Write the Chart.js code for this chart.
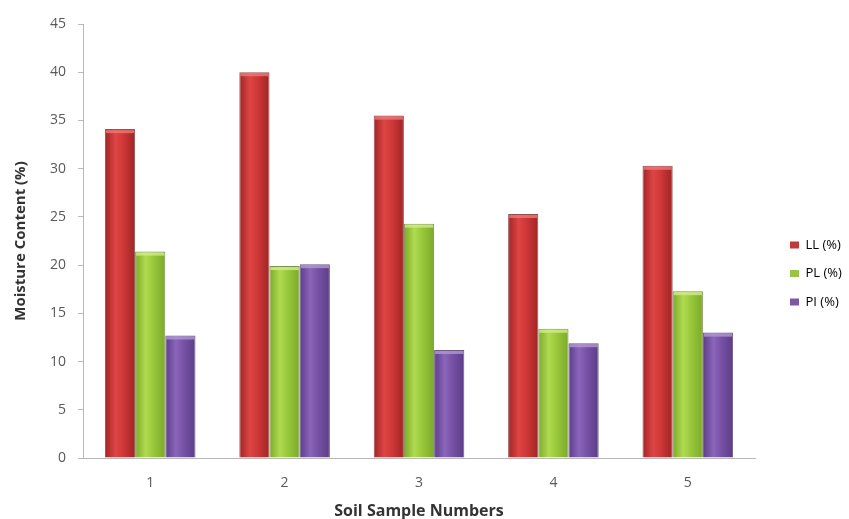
<!DOCTYPE html>
<html>
<head>
<meta charset="utf-8">
<script src="https://cdn.jsdelivr.net/npm/chart.js@4/dist/chart.umd.min.js"></script>
<style>
  html, body { margin: 0; padding: 0; background: #fff; }
  #wrap { width: 849px; height: 519px; }
</style>
</head>
<body>
<div id="wrap"><canvas id="c" width="849" height="519"></canvas></div>
<script>
// Atterberg limits of the soil samples
const samples = ['1', '2', '3', '4', '5'];
const liquidLimit = [34.1, 40.0, 35.5, 25.3, 30.3];
const plasticLimit = [21.4, 19.9, 24.3, 13.4, 17.3];
const plasticityIndex = [12.7, 20.1, 11.2, 11.9, 13.0];
const seriesNames = ['LL (%)', 'PL (%)', 'PI (%)'];

// Shading stops for the cylinder-like bars: edge, middle, edge
const palettes = [
  { edge: '#a02424', mid: '#de4545', base: '#cf3838', cap: '#ef7878', line: 'rgba(110,25,25,0.75)' },
  { edge: '#7ca92a', mid: '#b0da50', base: '#98c83b', cap: '#d0ee88', line: 'rgba(80,110,25,0.75)' },
  { edge: '#5c3d88', mid: '#8b65ba', base: '#7752a5', cap: '#b299d5', line: 'rgba(60,35,90,0.75)' }
];

const CAT_PCT = 0.674;
// legend box width and the x where its markers start
const LEGEND_WIDTH = 94;
const LEGEND_ITEM_X = 790;
const LEGEND_DY = 2;

function barShade(context) {
  const chart = context.chart;
  const pal = palettes[context.datasetIndex];
  const xs = chart.scales.x;
  if (!xs || context.dataIndex === undefined) return pal.base;
  const catW = xs.width / samples.length;
  const barW = catW * CAT_PCT / 3;
  const center = xs.getPixelForValue(context.dataIndex) + (context.datasetIndex - 1) * barW;
  const left = center - barW / 2;
  const g = chart.ctx.createLinearGradient(left, 0, left + barW, 0);
  g.addColorStop(0, pal.edge);
  g.addColorStop(0.35, pal.mid);
  g.addColorStop(0.6, pal.base);
  g.addColorStop(1, pal.edge);
  return g;
}

// Lighter rim along the top of every bar
const capPlugin = {
  id: 'barCaps',
  afterDatasetsDraw(chart) {
    const ctx = chart.ctx;
    chart.data.datasets.forEach((ds, di) => {
      const meta = chart.getDatasetMeta(di);
      const pal = palettes[di];
      meta.data.forEach(bar => {
        const w = bar.width;
        const left = bar.x - w / 2;
        ctx.save();
        ctx.fillStyle = pal.cap;
        ctx.globalAlpha = 0.8;
        ctx.fillRect(left + 1, bar.y + 1, w - 2, 3);
        ctx.restore();
      });
    });
  }
};

// Fixed-width legend column with the items placed at a set x
const legendGapPlugin = {
  id: 'legendGap',
  afterInit(chart) {
    const legend = chart.legend;
    if (!legend) return;
    const fit = legend.fit;
    legend.fit = function () {
      fit.apply(this, arguments);
      this.width = LEGEND_WIDTH;
    };
    const draw = legend.draw;
    legend.draw = function () {
      const ctx = this.ctx;
      const dx = LEGEND_ITEM_X - (this.left + this.options.labels.padding);
      ctx.save();
      ctx.translate(dx, LEGEND_DY);
      draw.apply(this, arguments);
      ctx.restore();
    };
  }
};

const datasets = [liquidLimit, plasticLimit, plasticityIndex].map((vals, i) => ({
  label: seriesNames[i],
  data: vals,
  backgroundColor: barShade,
  borderColor: palettes[i].line,
  borderWidth: 1,
  barPercentage: 1,
  categoryPercentage: CAT_PCT
}));

const legendColors = ['#c0393b', '#9bc34a', '#7b57a6'];

new Chart(document.getElementById('c'), {
  type: 'bar',
  data: { labels: samples, datasets },
  plugins: [capPlugin, legendGapPlugin],
  options: {
    responsive: false,
    animation: false,
    layout: { padding: { top: 24, right: 0, left: 12, bottom: 0 } },
    plugins: {
      tooltip: { enabled: false },
      legend: {
        position: 'right',
        labels: {
          boxWidth: 9,
          boxHeight: 7,
          padding: 15.5,
          color: '#666',
          font: { family: 'Open Sans', size: 13 },
          generateLabels(chart) {
            return chart.data.datasets.map((ds, i) => ({
              text: ds.label,
              fillStyle: legendColors[i],
              strokeStyle: legendColors[i],
              lineWidth: 0,
              datasetIndex: i,
              hidden: false
            }));
          }
        }
      }
    },
    scales: {
      x: {
        offset: true,
        grid: { display: false },
        border: { display: true, color: '#b8b8b8', width: 1 },
        ticks: { color: '#595959', padding: 9, font: { family: 'Open Sans', size: 14 } },
        title: {
          display: true,
          text: 'Soil Sample Numbers',
          color: '#333',
          padding: { top: 1, bottom: -2 },
          font: { family: 'Open Sans', size: 16, weight: 'bold' }
        }
      },
      y: {
        min: 0,
        max: 45,
        ticks: { stepSize: 5, color: '#595959', padding: 12, font: { family: 'Open Sans', size: 14 } },
        grid: { drawOnChartArea: false, drawTicks: true, tickLength: 5, color: '#b8b8b8' },
        border: { display: true, color: '#b8b8b8', width: 1 },
        title: {
          display: true,
          text: 'Moisture Content (%)',
          color: '#333',
          padding: { top: 0, bottom: 8 },
          font: { family: 'Open Sans', size: 15, weight: 'bold' }
        }
      }
    }
  }
});
</script>
</body>
</html>
